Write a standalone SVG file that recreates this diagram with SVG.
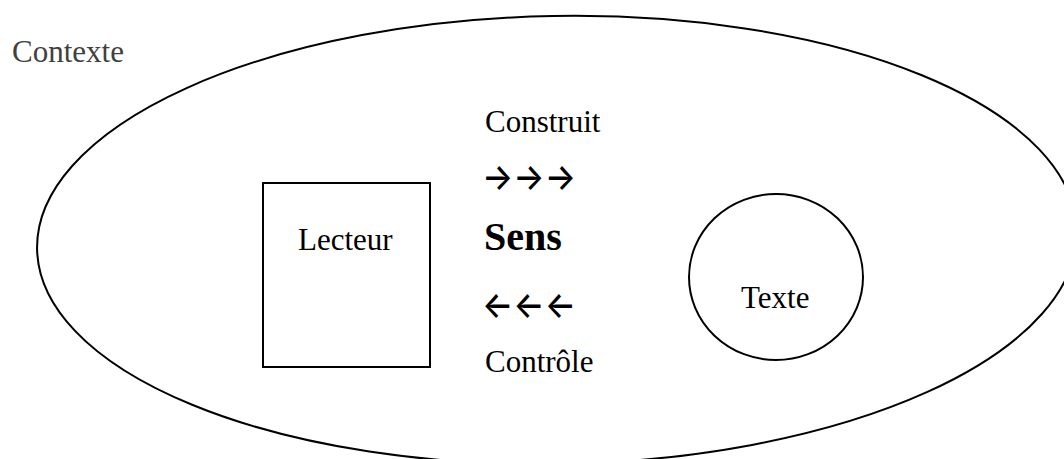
<svg xmlns="http://www.w3.org/2000/svg" width="1064" height="459" viewBox="0 0 1064 459">
<style>
.t{font-family:"Liberation Serif","Times New Roman",serif;font-size:31px;fill:#000}
.shape{fill:none;stroke:#000;stroke-width:2}
.arr{font-family:Inter,"DejaVu Sans",sans-serif;font-size:37px;font-weight:500;fill:#000}
</style>
<rect width="1064" height="459" fill="#fff"/>
<g id="contexte">
<ellipse class="shape" cx="557" cy="240" rx="520" ry="224" transform="rotate(-1 557 240)"/>
<text class="t" x="12" y="62" style="fill:#404040">Contexte</text>
</g>
<g id="lecteur">
<rect class="shape" x="263" y="183" width="167" height="184"/>
<text class="t" x="298" y="250">Lecteur</text>
</g>
<g id="texte">
<ellipse class="shape" cx="776" cy="277" rx="87" ry="83"/>
<text class="t" x="741" y="308">Texte</text>
</g>
<g id="sens">
<text class="t" x="485" y="132">Construit</text>
<text class="t" x="484" y="250" style="font-size:40px;font-weight:bold">Sens</text>
<text class="t" x="485" y="372">Contrôle</text>
</g>
<g id="connectors">
<text class="arr" x="482" y="190" textLength="94" lengthAdjust="spacingAndGlyphs">→→→</text>
<text class="arr" x="482" y="318" textLength="94" lengthAdjust="spacingAndGlyphs">←←←</text>
</g>
</svg>
